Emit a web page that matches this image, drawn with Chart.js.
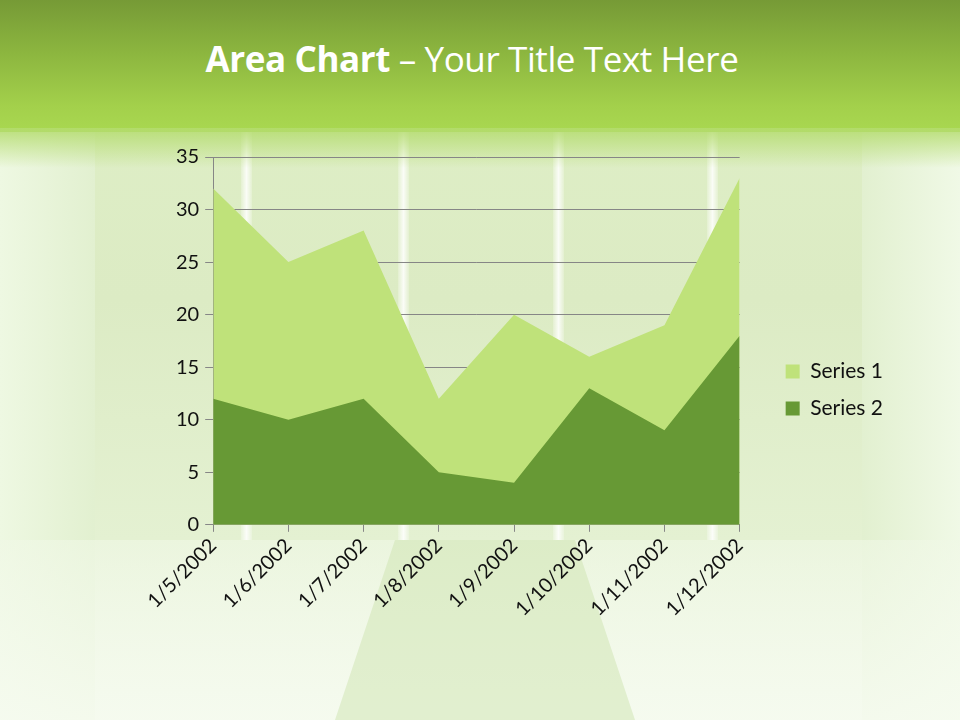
<!DOCTYPE html>
<html><head><meta charset="utf-8">
<script src="https://cdn.jsdelivr.net/npm/chart.js@4/dist/chart.umd.min.js"></script>
<style>
html,body{margin:0;padding:0;width:960px;height:720px;overflow:hidden;}
#bg{position:absolute;left:0;top:0;width:960px;height:720px;
 background:linear-gradient(to bottom,#dff0c6 0px,#dcebc4 300px,#e4f1d2 540px,#eef7e4 720px);}
#hdr{position:absolute;left:0;top:0;width:960px;height:132px;
 background:linear-gradient(to bottom,#769a36 0%,#8cb63f 40%,#a3d04b 80%,#a9d851 100%);}
#glow{position:absolute;left:0;top:128px;width:960px;height:40px;
 background:linear-gradient(to bottom,rgba(180,220,110,0.9),rgba(220,238,195,0));}
.pl{position:absolute;top:130px;height:590px;}
#lp{left:0;width:95px;background:linear-gradient(to right,#eef8e2,#e2f0d0);}
#rp{left:862px;width:98px;background:linear-gradient(to left,#f0f9e6,#e2f0d0);}
.st{position:absolute;top:130px;height:410px;width:11px;background:linear-gradient(to right,rgba(255,255,255,0.2),rgba(255,255,255,0.85),rgba(255,255,255,0.2));}
#floor{position:absolute;left:0;top:540px;width:960px;height:180px;
 background:linear-gradient(to bottom,rgba(240,248,230,0.6),rgba(246,251,240,0.9));}
#mid{position:absolute;left:335px;top:540px;width:300px;height:180px;background:rgba(205,228,175,0.5);
 clip-path:polygon(20% 0,80% 0,100% 100%,0 100%);}
#title{position:absolute;left:0;top:35px;width:944px;text-align:center;color:#fff;
 font-family:"Open Sans",sans-serif;font-size:35px;letter-spacing:-0.4px;}
#title b{font-weight:700;}
#wrap{position:absolute;left:0;top:130px;width:960px;height:560px;}
</style></head>
<body>
<div id="bg"></div>
<div class="pl" id="lp"></div><div class="pl" id="rp"></div>
<div class="st" style="left:241px"></div><div class="st" style="left:398px"></div>
<div class="st" style="left:553px"></div><div class="st" style="left:707px"></div>
<div id="floor"></div><div id="mid"></div>
<div id="hdr"></div><div id="glow"></div>
<div id="title"><b>Area Chart</b> – Your Title Text Here</div>
<div id="wrap"><canvas id="c"></canvas></div>
<script>
const categories = ["1/5/2002","1/6/2002","1/7/2002","1/8/2002","1/9/2002","1/10/2002","1/11/2002","1/12/2002"];
const series1 = [32,25,28,12,20,16,19,33];
const series2 = [12,10,12,5,4,13,9,18];
const yTicks = {min:0,max:35,step:5};

const F = "Lato, 'Open Sans', sans-serif";
const LEGEND_SHIFT = 30;
const legendGap = {
 id:'legendGap',
 afterInit(chart){
  const lg = chart.legend; if(!lg) return;
  const fit = lg.fit, draw = lg.draw;
  lg.fit = function(){ fit.apply(this, arguments); this.width += LEGEND_SHIFT; };
  lg.draw = function(){ const ctx=this.ctx; ctx.save(); ctx.translate(LEGEND_SHIFT,0); draw.apply(this, arguments); ctx.restore(); };
 }
};
new Chart(document.getElementById('c'),{
 type:'line',
 data:{labels:categories,datasets:[
  {label:'Series 1',data:series1,fill:'origin',backgroundColor:'#bfe27a',borderWidth:0,pointRadius:0,tension:0,order:1},
  {label:'Series 2',data:series2,fill:'origin',backgroundColor:'#679935',borderWidth:0,pointRadius:0,tension:0,order:0}
 ]},
 plugins:[legendGap],
 options:{
  responsive:true,maintainAspectRatio:false,animation:false,
  layout:{padding:{left:170,right:67,top:27,bottom:67}},
  plugins:{
   tooltip:{enabled:false},
   legend:{position:'right',align:'center',
    labels:{sort:(a,b)=>a.datasetIndex-b.datasetIndex,boxWidth:14,boxHeight:14,padding:16,color:'#111',font:{family:F,size:21}}}
  },
  scales:{
   x:{offset:false,grid:{display:true,drawOnChartArea:false,color:'#868686',tickLength:7,offset:false},
      border:{color:'#868686'},
      ticks:{maxRotation:45,minRotation:45,color:'#111',font:{family:F,size:20},padding:2}},
   y:{min:yTicks.min,max:yTicks.max,
      grid:{color:'#868686',tickLength:8},border:{color:'#868686'},
      ticks:{stepSize:yTicks.step,color:'#111',font:{family:F,size:20},padding:6}}
  }
 }
});
</script>
</body></html>
